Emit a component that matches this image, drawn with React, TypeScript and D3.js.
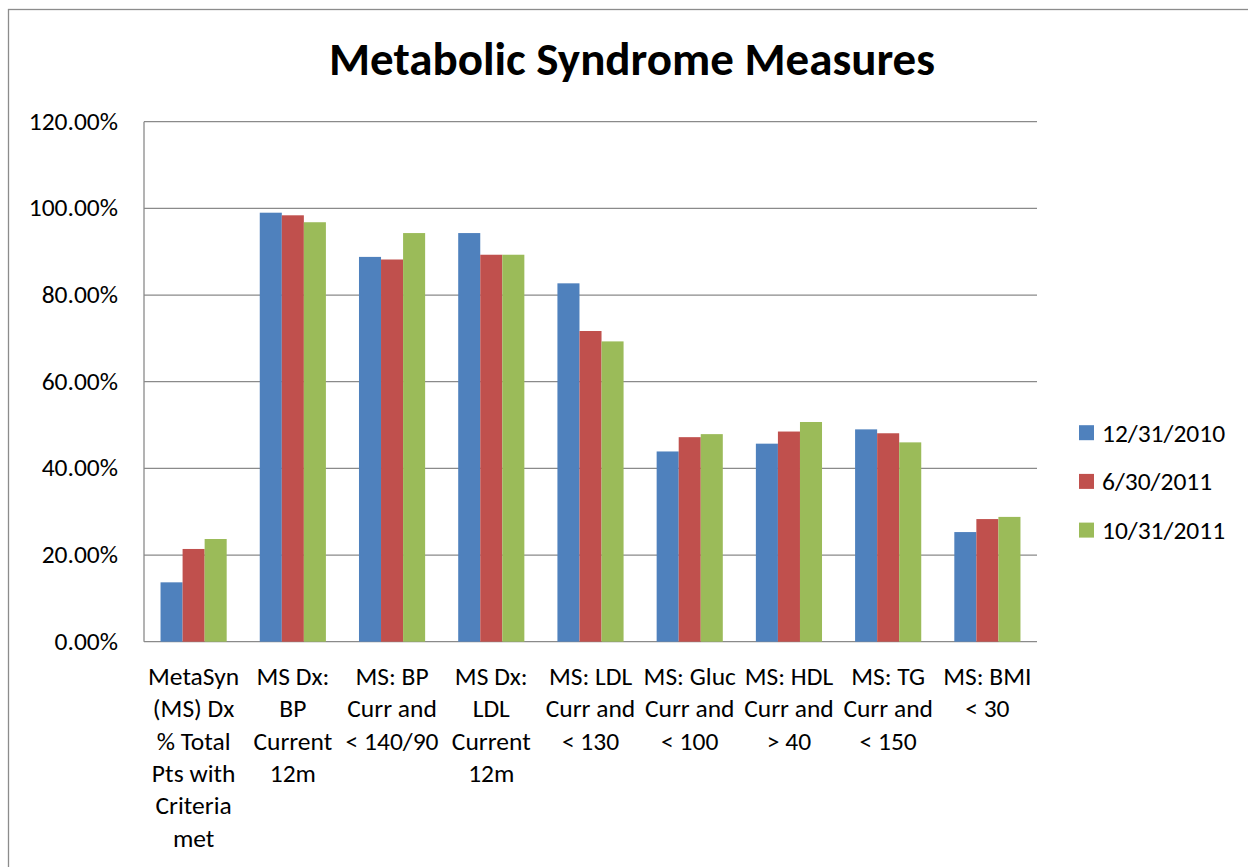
import React from "react";
import * as d3 from "d3";

const categories: string[][] = [
  ["MetaSyn", "(MS) Dx", "% Total", "Pts with", "Criteria", "met"],
  ["MS Dx:", "BP", "Current", "12m"],
  ["MS: BP", "Curr and", "< 140/90"],
  ["MS Dx:", "LDL", "Current", "12m"],
  ["MS: LDL", "Curr and", "< 130"],
  ["MS: Gluc", "Curr and", "< 100"],
  ["MS: HDL", "Curr and", "> 40"],
  ["MS: TG", "Curr and", "< 150"],
  ["MS: BMI", "< 30"],
];

const seriesNames = ["12/31/2010", "6/30/2011", "10/31/2011"];
const seriesColors = ["#4f81bd", "#c0504d", "#9bbb59"];

const dec2010 = [13.7, 99.0, 88.8, 94.3, 82.7, 43.9, 45.7, 49.0, 25.3];
const jun2011 = [21.4, 98.4, 88.2, 89.3, 71.7, 47.2, 48.5, 48.1, 28.3];
const oct2011 = [23.7, 96.8, 94.3, 89.3, 69.3, 47.9, 50.7, 46.0, 28.8];

const yTicks = [0, 20, 40, 60, 80, 100, 120];

const FONT = "Carlito, Calibri, Lato, sans-serif";
const LABEL_SIZE = 25.5;

export default function App() {
  const width = 1248;
  const height = 867;
  const plot = { left: 144, top: 121.7, right: 1037, bottom: 641.7 };
  const series = [dec2010, jun2011, oct2011];

  // category bands; bars take width/(3 + 150% gap), centred in each band
  const x = d3
    .scaleBand<number>()
    .domain(d3.range(categories.length))
    .range([plot.left, plot.right])
    .paddingInner(0)
    .paddingOuter(0);
  const cw = x.bandwidth();
  const barW = cw / (3 + 1.5);
  const groupOffset = barW * 0.75;
  const y = d3.scaleLinear().domain([0, 120]).range([plot.bottom, plot.top]);

  const fmt = (v: number) => d3.format(".2f")(v) + "%";

  return (
    <svg
      width={width}
      height={height}
      style={{ position: "absolute", left: 0, top: 0, background: "#fff" }}
      fontFamily={FONT}
    >
      <rect x={8.5} y={9.5} width={1260} height={880} fill="#fff" stroke="#8c8c8c" strokeWidth={1.3} />
      <text x={632} y={75} textAnchor="middle" fontSize={47} fontWeight="bold" fill="#000">
        Metabolic Syndrome Measures
      </text>

      {/* gridlines */}
      {yTicks.map((t) => (
        <line
          key={"g" + t}
          x1={plot.left}
          x2={plot.right}
          y1={y(t)}
          y2={y(t)}
          stroke="#8a8a8a"
          strokeWidth={1.3}
        />
      ))}
      <line x1={plot.left} x2={plot.left} y1={plot.top} y2={plot.bottom} stroke="#8a8a8a" strokeWidth={1.3} />

      {/* y tick labels */}
      {yTicks.map((t) => (
        <text key={"t" + t} x={118} y={y(t) + 8} textAnchor="end" fontSize={LABEL_SIZE} fill="#000">
          {fmt(t)}
        </text>
      ))}

      {/* bars */}
      {categories.map((_, ci) =>
        series.map((s, si) => {
          const x0 = (x(ci) as number) + groupOffset + si * barW;
          return (
            <rect
              key={ci + "-" + si}
              x={x0}
              y={y(s[ci])}
              width={barW}
              height={y(0) - y(s[ci])}
              fill={seriesColors[si]}
            />
          );
        })
      )}

      {/* category labels */}
      {categories.map((lines, ci) => (
        <text key={"c" + ci} textAnchor="middle" fontSize={LABEL_SIZE} fill="#000">
          {lines.map((l, li) => (
            <tspan key={li} x={(x(ci) as number) + cw / 2} y={685 + li * 32.3}>
              {l}
            </tspan>
          ))}
        </text>
      ))}

      {/* legend */}
      {seriesNames.map((n, i) => (
        <g key={"l" + i} transform={`translate(1079, ${432.7 + i * 48.7})`}>
          <rect x={0} y={-7.5} width={15} height={15} fill={seriesColors[i]} />
          <text x={23} y={9} fontSize={LABEL_SIZE} fill="#000">
            {n}
          </text>
        </g>
      ))}
    </svg>
  );
}
